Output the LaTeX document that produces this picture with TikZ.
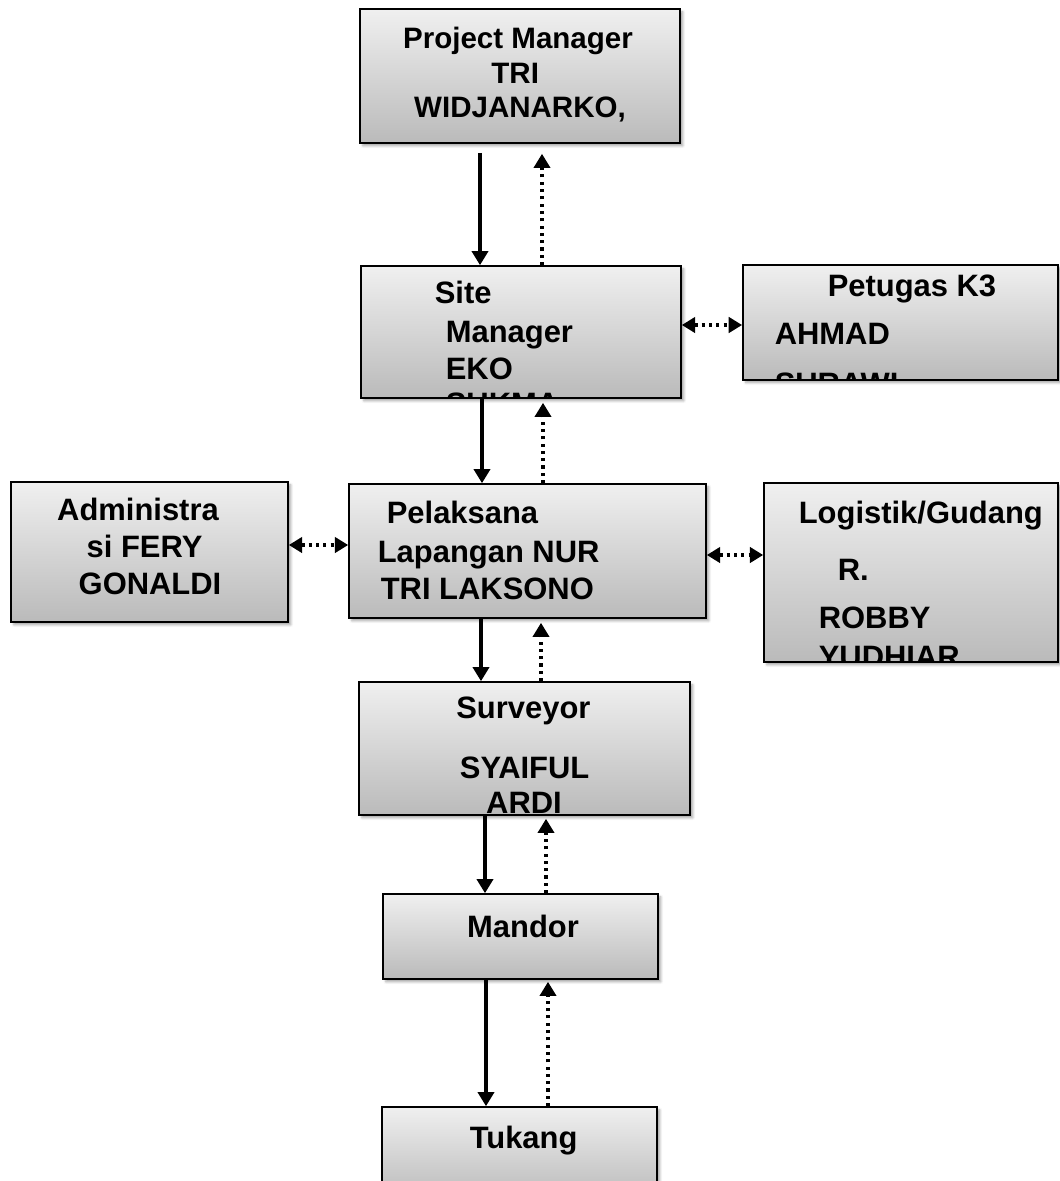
\documentclass[tikz,border=0pt]{standalone}
\usepackage{fontspec}
\setmainfont{Liberation Sans}
\usetikzlibrary{arrows.meta,shadows.blur}

% one line of text inside a box, placed from the box's top left corner
\newcommand{\boxtext}[5]{\node[lbl, anchor=#4] (#1) at ([shift={(#2,#3)}]path picture bounding box.north west) {#5};}

\begin{document}
\begin{tikzpicture}[
orgbox/.style={draw, line width=1.2pt, rectangle, inner sep=0pt,
  top color=black!6, bottom color=black!27,
  blur shadow={shadow xshift=0.07cm, shadow yshift=-0.07cm, shadow blur radius=0.06cm, shadow opacity=35}},
lbl/.style={inner sep=0pt, minimum width=0pt, minimum height=0pt, font=\fontsize{22}{26}\selectfont\bfseries},
reportto/.style={line width=2.3pt, -{Triangle[length=10pt,width=11.5pt]}},
feedback/.style={line width=2.2pt, dash pattern=on 2.2pt off 3pt, -{Triangle[length=10pt,width=11.5pt]}},
liaison/.style={line width=2.2pt, dash pattern=on 2.2pt off 3pt, {Triangle[length=9.5pt,width=11pt]}-{Triangle[length=9.5pt,width=11pt]}}
]
\useasboundingbox (0,0) rectangle (26.5,-29.525);
\clip (0,0) rectangle (26.5,-29.525);

\node[orgbox, minimum width=8cm, minimum height=3.35cm, path picture={
  \boxtext{pm-a}{3.95}{-0.975}{base}{\fontsize{21}{25}\selectfont Project Manager}
  \boxtext{pm-b}{3.88}{-1.85}{base}{\fontsize{21}{25}\selectfont TRI}
  \boxtext{pm-c}{4.0}{-2.7}{base}{\fontsize{21}{25}\selectfont WIDJANARKO,}
}] (pm) at (13,-1.9) {};

\node[orgbox, minimum width=8cm, minimum height=3.3cm, path picture={
  \boxtext{sm-a}{1.825}{-0.925}{base west}{Site}
  \boxtext{sm-b}{2.1}{-1.9}{base west}{Manager}
  \boxtext{sm-c}{2.1}{-2.825}{base west}{EKO}
  \boxtext{sm-d}{2.1}{-3.7}{base west}{SUKMA}
}] (sm) at (13.025,-8.3) {};

\node[orgbox, minimum width=7.875cm, minimum height=2.875cm, path picture={
  \boxtext{k3-a}{2.1}{-0.8}{base west}{Petugas K3}
  \boxtext{k3-b}{0.775}{-2.0}{base west}{AHMAD}
  \boxtext{k3-c}{0.775}{-3.25}{base west}{SURAWI}
}] (k3) at (22.51,-8.06) {};

\node[orgbox, minimum width=6.925cm, minimum height=3.5cm, path picture={
  \boxtext{adm-a}{3.175}{-0.95}{base}{Administra}
  \boxtext{adm-b}{3.34}{-1.875}{base}{si FERY}
  \boxtext{adm-c}{3.475}{-2.8}{base}{GONALDI}
}] (admin) at (3.7375,-13.8) {};

\node[orgbox, minimum width=8.925cm, minimum height=3.35cm, path picture={
  \boxtext{pel-a}{0.925}{-0.975}{base west}{Pelaksana}
  \boxtext{pel-b}{0.7}{-1.95}{base west}{Lapangan NUR}
  \boxtext{pel-c}{0.775}{-2.875}{base west}{TRI LAKSONO}
}] (pel) at (13.1875,-13.775) {};

\node[orgbox, minimum width=7.35cm, minimum height=4.475cm, path picture={
  \boxtext{log-a}{0.85}{-1.0}{base west}{Logistik/Gudang}
  \boxtext{log-b}{1.825}{-2.425}{base west}{R.}
  \boxtext{log-c}{1.35}{-3.625}{base west}{ROBBY}
  \boxtext{log-d}{1.35}{-4.6}{base west}{YUDHIAR}
}] (log) at (22.775,-14.3125) {};

\node[orgbox, minimum width=8.275cm, minimum height=3.325cm, path picture={
  \boxtext{sv-a}{4.11}{-0.9}{base}{Surveyor}
  \boxtext{sv-b}{4.14}{-2.4}{base}{SYAIFUL}
  \boxtext{sv-c}{4.125}{-3.275}{base}{ARDI}
}] (surv) at (13.1125,-18.7125) {};

\node[orgbox, minimum width=6.875cm, minimum height=2.125cm, path picture={
  \boxtext{md-a}{3.5}{-1.075}{base}{Mandor}
}] (mandor) at (13.0125,-23.4125) {};

\node[orgbox, minimum width=6.875cm, minimum height=2.325cm, path picture={
  \boxtext{tk-a}{3.54}{-1.025}{base}{Tukang}
}] (tukang) at (12.9875,-28.8375) {};

% lines of command and reports back
\draw[reportto, shorten <=0.225cm] ([xshift=-1cm]pm.south) -- ([xshift=-1cm]pm.south |- sm.north);
\draw[feedback, shorten >=0.25cm] ([xshift=0.525cm]sm.north) -- ([xshift=0.525cm]sm.north |- pm.south);
\draw[reportto] ([xshift=-0.975cm]sm.south) -- ([xshift=-0.975cm]sm.south |- pel.north);
\draw[feedback, shorten >=0.1cm] ([xshift=0.3875cm]pel.north) -- ([xshift=0.3875cm]pel.north |- sm.south);
\draw[reportto] ([xshift=-1.1625cm]pel.south) -- ([xshift=-1.1625cm]pel.south |- surv.north);
\draw[feedback, shorten >=0.1cm] ([xshift=0.4125cm]surv.north) -- ([xshift=0.4125cm]surv.north |- pel.south);
\draw[reportto] ([xshift=-0.9875cm]surv.south) -- ([xshift=-0.9875cm]surv.south |- mandor.north);
\draw[feedback, shorten >=0.075cm] ([xshift=0.6375cm]mandor.north) -- ([xshift=0.6375cm]mandor.north |- surv.south);
\draw[reportto] ([xshift=-0.8625cm]mandor.south) -- ([xshift=-0.8625cm]mandor.south |- tukang.north);
\draw[feedback, shorten >=0.05cm] ([xshift=0.7125cm]tukang.north) -- ([xshift=0.7125cm]tukang.north |- mandor.south);

% coordination on the same level
\draw[liaison] ([yshift=0.175cm]sm.east) -- ([yshift=0.175cm]sm.east -| k3.west);
\draw[liaison] ([yshift=0.175cm]admin.east) -- ([yshift=0.175cm]admin.east -| pel.west);
\draw[liaison] ([yshift=-0.1cm]pel.east) -- ([yshift=-0.1cm]pel.east -| log.west);
\end{tikzpicture}
\end{document}
